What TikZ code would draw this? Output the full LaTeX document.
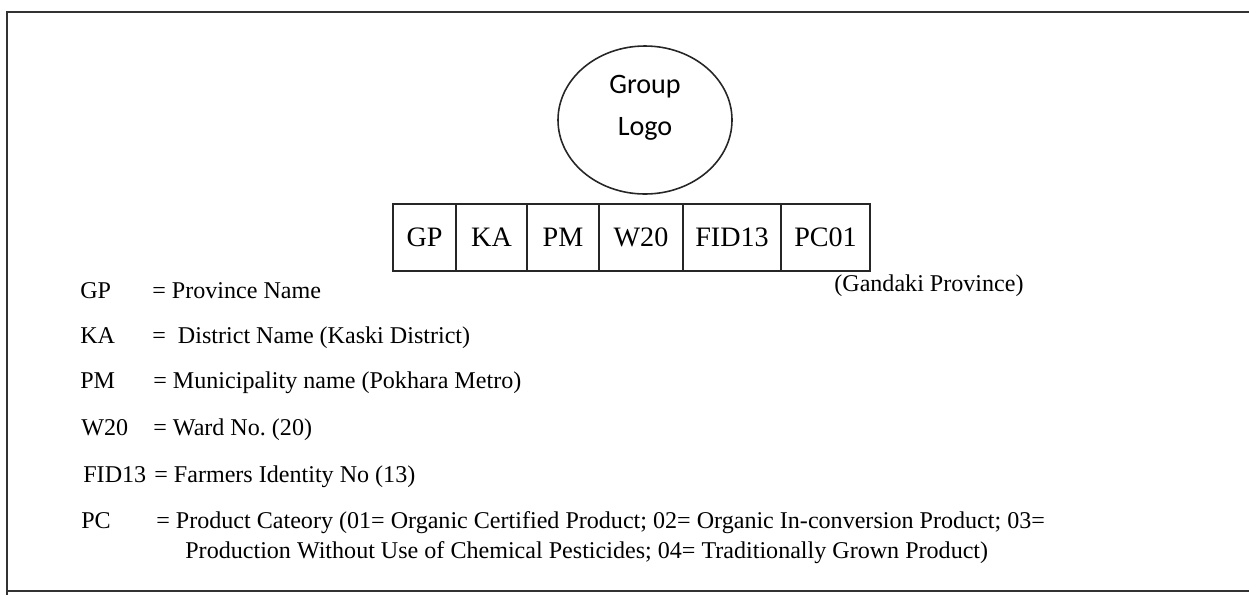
\documentclass[tikz,border=0pt]{standalone}
\usepackage{fontspec}
\setmainfont{Liberation Serif}
\newfontfamily\logofont{Carlito}
\usetikzlibrary{positioning,shapes.geometric}

\begin{document}
\begin{tikzpicture}[x=0.2mm, y=-0.2mm]
\tikzstyle{logo}=[ellipse, draw=black!85, line width=0.9pt, minimum width=34.8mm, minimum height=29.6mm, inner sep=0pt]
\tikzstyle{logotext}=[align=center, inner sep=0pt, font=\logofont\fontsize{16}{23.8}\selectfont]
\tikzstyle{cell}=[rectangle, draw=black!85, line width=0.9pt, minimum height=13.4mm, inner sep=0pt, outer sep=0pt, node distance=0mm, font=\fontsize{16}{19}\selectfont]
\tikzstyle{key}=[anchor=base west, inner sep=0pt, font=\fontsize{13.7}{16.4}\selectfont]

\useasboundingbox (0,0) rectangle (1249,595);

% 1. Frame
%%%%%%%%%%
\draw[line width=1.1pt, black!80] (1249,12) -- (7,12) -- (7,595);
\draw[line width=1.1pt, black!80] (7,591) -- (1249,591);

% 2. Logo
%%%%%%%%%
\node[logo] (logo) at (645,120) {};
\node[logotext, anchor=base] (logotext) at (645,135) {Group\\Logo};

% 3. Code boxes
%%%%%%%%%%%%%%%
\node[cell, minimum width=12.6mm] (gp) at (424.5,237.5) {GP};
\node[cell, minimum width=14.2mm] (ka) [right=of gp] {KA};
\node[cell, minimum width=14.4mm] (pm) [right=of ka] {PM};
\node[cell, minimum width=16.8mm] (ward) [right=of pm] {W20};
\node[cell, minimum width=19.6mm] (fid) [right=of ward] {FID13};
\node[cell, minimum width=17.8mm] (pc) [right=of fid] {PC01};

% 4. Legend
%%%%%%%%%%%
\node[key] (gpkey) at (80,298) {GP};
\node[key] (gpval) at (152,298) {= Province Name};
\node[key] (gpnote) at (834,291) {(Gandaki Province)};
\node[key] (kakey) at (80,343) {KA};
\node[key] (kaval) at (152,343) {=\ \ District Name (Kaski District)};
\node[key] (pmkey) at (80,388) {PM};
\node[key] (pmval) at (153,388) {= Municipality name (Pokhara Metro)};
\node[key] (wardkey) at (81,435) {W20};
\node[key] (wardval) at (153,435) {= Ward No.\ (20)};
\node[key] (fidkey) at (83,482) {FID13};
\node[key] (fidval) at (154,482) {= Farmers Identity No (13)};
\node[key] (pckey) at (81,528) {PC};
\node[key] (pcval) at (156,528) {= Product Cateory (01= Organic Certified Product; 02= Organic In-conversion Product; 03=};
\node[key] (pcval2) at (185,558) {Production Without Use of Chemical Pesticides; 04= Traditionally Grown Product)};

\end{tikzpicture}
\end{document}
